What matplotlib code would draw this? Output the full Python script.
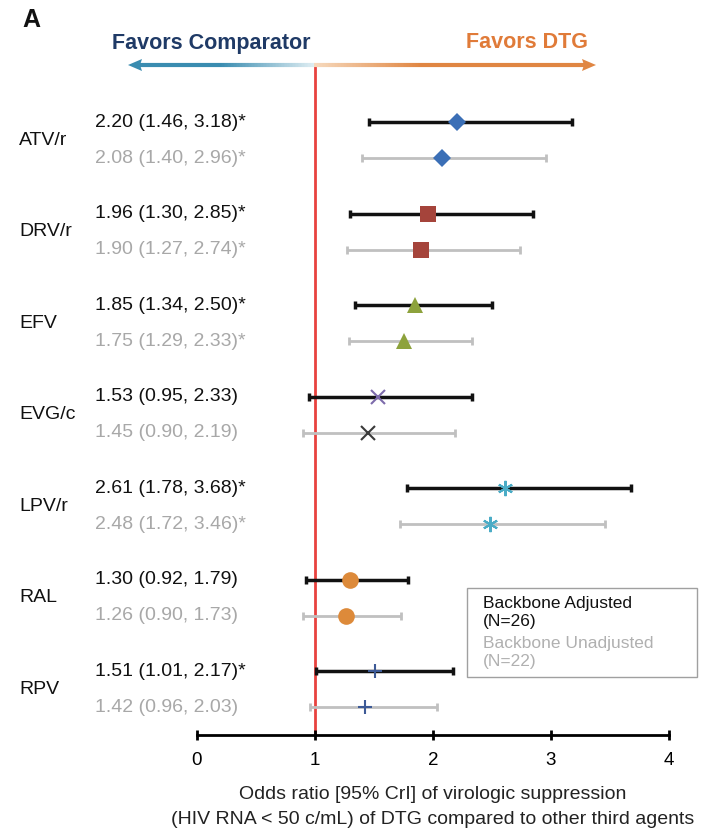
import numpy as np
import matplotlib.pyplot as plt
import matplotlib.transforms as mtransforms
from matplotlib.collections import LineCollection
from matplotlib.patches import Rectangle

plt.rcParams['font.family'] = ['Liberation Sans', 'DejaVu Sans']

drugs = ["ATV/r", "DRV/r", "EFV", "EVG/c", "LPV/r", "RAL", "RPV"]

# backbone adjusted (N=26)
adj_or = [2.20, 1.96, 1.85, 1.53, 2.61, 1.30, 1.51]
adj_lo = [1.46, 1.30, 1.34, 0.95, 1.78, 0.92, 1.01]
adj_hi = [3.18, 2.85, 2.50, 2.33, 3.68, 1.79, 2.17]
adj_sig = [True, True, True, False, True, False, True]

# backbone unadjusted (N=22)
unadj_or = [2.08, 1.90, 1.75, 1.45, 2.48, 1.26, 1.42]
unadj_lo = [1.40, 1.27, 1.29, 0.90, 1.72, 0.90, 0.96]
unadj_hi = [2.96, 2.74, 2.33, 2.19, 3.46, 1.73, 2.03]
unadj_sig = [True, True, True, False, True, False, False]

legend_labels = ["Backbone Adjusted\n(N=26)", "Backbone Unadjusted\n(N=22)"]

markers = ["D", "s", "^", "x", (6, 2, 0), "o", "+"]
colors = ["#3b6fb6", "#a5443b", "#8da23c", "#7d6bab", "#4bacc6", "#dd8a3a", "#3d5a96"]
unadj_colors = ["#3b6fb6", "#a5443b", "#8da23c", "#3a3a3a", "#4bacc6", "#dd8a3a", "#3d5a96"]
msizes = [9, 12, 11, 10, 11, 12, 10]

W, H = 711, 830
fig = plt.figure(figsize=(W / 100, H / 100), dpi=100)
ax = fig.add_axes([197 / W, 1 - 735 / H, (669 - 197) / W, (735 - 65) / H])

off = 0.197
ypos = np.arange(len(drugs))

ax.axvline(1, color="#e8423f", lw=2, zorder=1)

for i in range(len(drugs)):
    y1 = ypos[i] - off
    y2 = ypos[i] + off
    ax.errorbar(adj_or[i], y1, xerr=[[adj_or[i] - adj_lo[i]], [adj_hi[i] - adj_or[i]]],
                fmt="none", ecolor="#111111", elinewidth=2.5, capsize=3, capthick=2.5, zorder=2)
    ax.errorbar(unadj_or[i], y2, xerr=[[unadj_or[i] - unadj_lo[i]], [unadj_hi[i] - unadj_or[i]]],
                fmt="none", ecolor="#c0c0c0", elinewidth=2, capsize=3, capthick=2, zorder=2)
    mew = 1.5 if markers[i] in ("x", "+") or isinstance(markers[i], tuple) else 0
    ax.plot(adj_or[i], y1, marker=markers[i], ms=msizes[i], color=colors[i],
            mec=colors[i], mew=mew, ls="none", zorder=3)
    ax.plot(unadj_or[i], y2, marker=markers[i], ms=msizes[i], color=unadj_colors[i],
            mec=unadj_colors[i], mew=mew, ls="none", zorder=3)

ax.set_xlim(0, 4)
ax.set_ylim(6.50, -0.82)
ax.set_xticks([0, 1, 2, 3, 4])
ax.set_yticks([])
for s in ["top", "right", "left"]:
    ax.spines[s].set_visible(False)
ax.spines["bottom"].set_linewidth(2)
ax.tick_params(axis="x", direction="inout", length=7, width=2, labelsize=13.5, pad=9)
ax.set_xlabel("Odds ratio [95% CrI] of virologic suppression\n(HIV RNA < 50 c/mL) of DTG compared to other third agents",
              fontsize=14, color="#222222", labelpad=12, linespacing=1.6)

# left-hand labels
tr = mtransforms.blended_transform_factory(fig.transFigure, ax.transData)
for i, d in enumerate(drugs):
    ax.text(19 / W, ypos[i], d, transform=tr, fontsize=14, va="center", ha="left", color="#111111")
    t1 = f"{adj_or[i]:.2f} ({adj_lo[i]:.2f}, {adj_hi[i]:.2f})" + ("*" if adj_sig[i] else "")
    t2 = f"{unadj_or[i]:.2f} ({unadj_lo[i]:.2f}, {unadj_hi[i]:.2f})" + ("*" if unadj_sig[i] else "")
    ax.text(95 / W, ypos[i] - off, t1, transform=tr, fontsize=14, va="center", ha="left", color="#111111")
    ax.text(95 / W, ypos[i] + off, t2, transform=tr, fontsize=14, va="center", ha="left", color="#a8a8a8")

# legend box drawn by hand
fig.patches.append(Rectangle((467 / W, 1 - 677 / H), 230 / W, 89 / H, transform=fig.transFigure,
                             facecolor="white", edgecolor="#a0a0a0", lw=1, zorder=5))
fig.text(483 / W, 1 - 612 / H, legend_labels[0], fontsize=12.5, color="#111111",
         ha="left", va="center", linespacing=1.25, zorder=6)
fig.text(483 / W, 1 - 652 / H, legend_labels[1], fontsize=12.5, color="#b0b0b0",
         ha="left", va="center", linespacing=1.25, zorder=6)

# header arrow with gradient
top = fig.add_axes([0, 0, 1, 1], facecolor="none")
top.set_xlim(0, W)
top.set_ylim(H, 0)
top.axis("off")
xs = np.linspace(138, 588, 300)
segs = [[(xs[k], 65), (xs[k + 1], 65)] for k in range(len(xs) - 1)]
teal = np.array([0x3a, 0x8c, 0xb0]) / 255
pale_b = np.array([0xe0, 0xee, 0xf3]) / 255
pale_o = np.array([0xf6, 0xd9, 0xbd]) / 255
orng = np.array([0xe0, 0x86, 0x42]) / 255
cols = []
for x in xs[:-1]:
    if x < 314:
        f = np.clip((x - 220) / (314 - 220), 0, 1)
        cols.append(teal * (1 - f) + pale_b * f)
    else:
        f = np.clip((x - 314) / (420 - 314), 0, 1)
        cols.append(pale_o * (1 - f) + orng * f)
top.add_collection(LineCollection(segs, colors=cols, linewidths=3))
top.fill([128, 142, 140, 142], [65, 59, 65, 71], color=teal, lw=0)
top.fill([596, 582, 584, 582], [65, 59, 65, 71], color=orng, lw=0)

fig.text(112 / W, 1 - 43 / H, "Favors Comparator", fontsize=15.5, fontweight="bold",
         color="#1f3a66", ha="left", va="center")
fig.text(588 / W, 1 - 43 / H, "Favors DTG", fontsize=15.5, fontweight="bold",
         color="#e07b39", ha="right", va="center")
fig.text(22 / W, 1 - 20 / H, "A", fontsize=18, fontweight="bold", color="#111111",
         ha="left", va="center")

fig.savefig("out.png", dpi=100)
